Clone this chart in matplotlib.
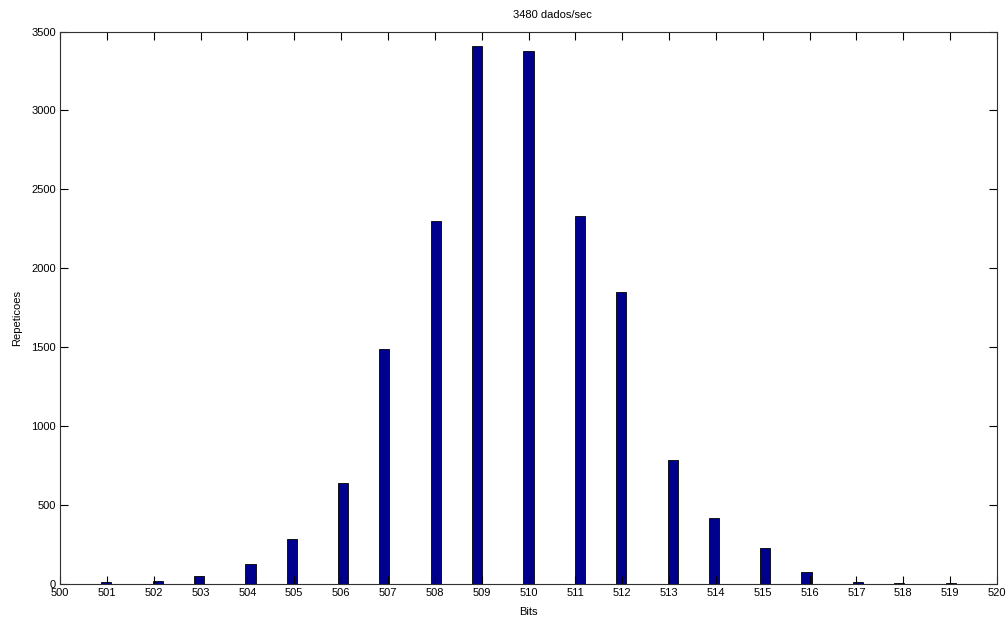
import numpy as np
import matplotlib
matplotlib.use("Agg")
import matplotlib.pyplot as plt

plt.rcParams['font.family'] = ['Liberation Sans', 'DejaVu Sans']

# Data (MATLAB hist with 91 bins over 500..520)
bits = [500, 501, 502, 503, 504, 505, 506, 507, 508, 509, 510,
        511, 512, 513, 514, 515, 516, 517, 518, 519, 520]
counts = [5, 12, 19, 55, 128, 285, 640, 1488, 2303, 3411, 3379,
          2334, 1853, 787, 422, 230, 78, 12, 6, 6, 5]
n_bins = 91
x_ticks = list(range(500, 521))
y_ticks = list(range(0, 3501, 500))
title_text = "3480 dados/sec"

fig = plt.figure(figsize=(10.08, 6.18), dpi=100)
ax = fig.add_axes([60/1008, 1-584.3/618, (997-60)/1008, (584.3-31.5)/618])

edges = np.linspace(min(bits), max(bits), n_bins + 1)
ax.hist(bits, bins=edges, weights=counts, facecolor='#00008F',
        edgecolor='black', linewidth=0.6)

ax.set_xlim(500, 520)
ax.set_ylim(0, 3500)
ax.set_xticks(x_ticks)
ax.set_yticks(y_ticks)
ax.tick_params(direction='in', length=6, width=0.8, labelsize=8,
               top=True, right=True, colors='black')
ax.tick_params(axis='x', pad=3)
ax.tick_params(axis='y', pad=3)
for s in ax.spines.values():
    s.set_linewidth(0.8)
    s.set_color('#303030')

ax.set_xlabel('Bits', fontsize=8, labelpad=6)
ax.set_ylabel('Repeticoes', fontsize=8)
ax.yaxis.set_label_coords(-0.040, 0.482)
ax.text(0.526, 1.030, title_text, transform=ax.transAxes, ha='center',
        va='center', fontsize=8)

fig.savefig('out.png', dpi=100)
